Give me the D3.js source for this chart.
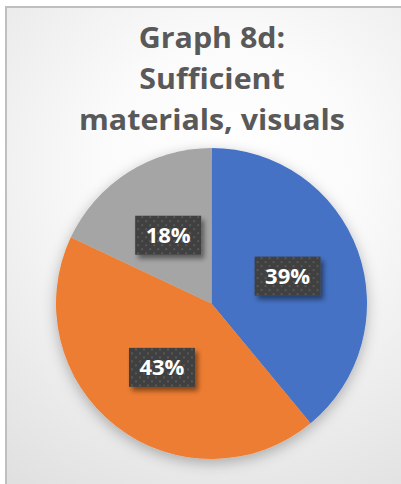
<!DOCTYPE html>
<html>
<head>
<meta charset="utf-8">
<script src="https://cdn.jsdelivr.net/npm/d3@7/dist/d3.min.js"></script>
<style>
html,body{margin:0;padding:0;background:#fff;overflow:hidden;}
svg{display:block;}
</style>
</head>
<body>
<svg id="chart" width="401" height="484"></svg>
<script>
const titleLines = ["Graph 8d:", "Sufficient", "materials, visuals"];
const categories = ["A", "B", "C"];
const values = [39, 43, 18];
const labels = ["39%", "43%", "18%"];
const colors = ["#4472C4", "#ED7D31", "#A5A5A5"];

const W = 401, H = 484;
const svg = d3.select("#chart");
const defs = svg.append("defs");

const bg = defs.append("radialGradient").attr("id", "bg")
  .attr("gradientUnits", "userSpaceOnUse")
  .attr("cx", 230).attr("cy", 170).attr("r", 420);
bg.append("stop").attr("offset", "0%").attr("stop-color", "#ffffff");
bg.append("stop").attr("offset", "30%").attr("stop-color", "#fbfbfb");
bg.append("stop").attr("offset", "100%").attr("stop-color", "#dcdcdc");

const pieShadow = defs.append("filter").attr("id", "pieShadow")
  .attr("x", "-20%").attr("y", "-20%").attr("width", "140%").attr("height", "140%");
pieShadow.append("feDropShadow").attr("dx", 0).attr("dy", 4)
  .attr("stdDeviation", 7).attr("flood-color", "#000").attr("flood-opacity", 0.28);

const lblShadow = defs.append("filter").attr("id", "lblShadow")
  .attr("x", "-20%").attr("y", "-20%").attr("width", "150%").attr("height", "160%");
lblShadow.append("feDropShadow").attr("dx", 3).attr("dy", 4)
  .attr("stdDeviation", 2.5).attr("flood-color", "#000").attr("flood-opacity", 0.45);

const pat = defs.append("pattern").attr("id", "dots")
  .attr("patternUnits", "userSpaceOnUse").attr("width", 8).attr("height", 8);
pat.append("rect").attr("width", 8).attr("height", 8).attr("fill", "#404040");
pat.append("rect").attr("x", 1).attr("y", 1).attr("width", 2).attr("height", 2).attr("fill", "#585858");
pat.append("rect").attr("x", 5).attr("y", 5).attr("width", 2).attr("height", 2).attr("fill", "#585858");

// chart area background + border
svg.append("rect").attr("x", 0).attr("y", 0).attr("width", W).attr("height", H).attr("fill", "#ffffff");
svg.append("rect").attr("x", 6).attr("y", 7).attr("width", W + 20).attr("height", H + 20)
  .attr("fill", "url(#bg)").attr("stroke", "#bfbfbf").attr("stroke-width", 2);

// title (Calibri-like proportions: tall glyphs, compressed horizontally)
const tcx = 212;
const tg = svg.append("g");
const title = tg.append("text")
  .attr("text-anchor", "middle")
  .attr("font-family", "'Open Sans', 'Liberation Sans', sans-serif")
  .attr("font-weight", "bold")
  .attr("fill", "#595959")
  .attr("font-size", 29);
const baselines = [48, 89, 130];
titleLines.forEach((t, i) => {
  title.append("tspan").attr("x", 0).attr("y", baselines[i]).text(t);
});
const widest = title.selectAll("tspan").nodes()[2].getComputedTextLength();
const sx = widest > 0 ? 266 / widest : 1;
tg.attr("transform", `translate(${tcx},0) scale(${sx},1)`);

// pie
const cx = 211.5, cy = 303.5, R = 155.5;
const pie = d3.pie().sort(null).value(d => d)(values);
const arc = d3.arc().innerRadius(0).outerRadius(R);
const g = svg.append("g").attr("transform", `translate(${cx},${cy})`);
g.append("g").attr("filter", "url(#pieShadow)")
  .selectAll("path").data(pie).join("path")
  .attr("d", arc)
  .attr("fill", (d, i) => colors[i]);

// labels
const lblArc = d3.arc().innerRadius(R * 0.52).outerRadius(R * 0.52);
const bw = 66, bh = 39;
const lg = g.selectAll("g.lbl").data(pie).join("g").attr("class", "lbl")
  .attr("transform", d => { const c = lblArc.centroid(d); return `translate(${c[0]},${c[1]})`; });
lg.append("rect")
  .attr("x", -bw / 2).attr("y", -bh / 2).attr("width", bw).attr("height", bh)
  .attr("fill", "url(#dots)").attr("filter", "url(#lblShadow)");
lg.append("text")
  .attr("text-anchor", "middle").attr("dy", "0.36em")
  .attr("font-family", "'Open Sans', 'Liberation Sans', sans-serif")
  .attr("font-weight", "bold").attr("font-size", 22)
  .attr("fill", "#ffffff")
  .text((d, i) => labels[i]);
</script>
</body>
</html>
